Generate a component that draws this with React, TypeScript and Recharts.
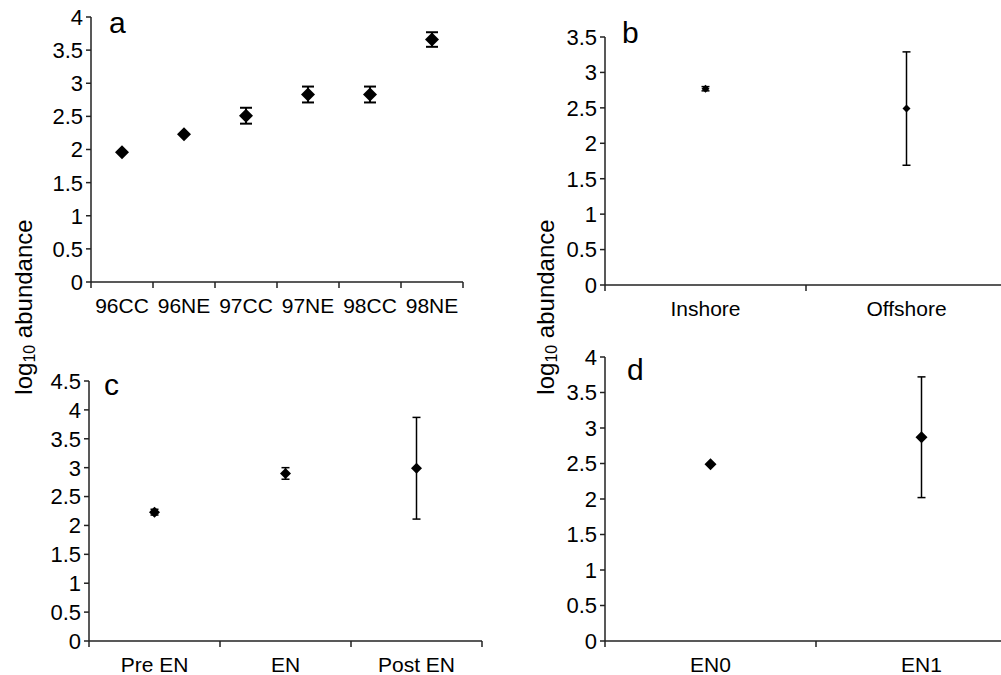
import React from "react";
import {
  ScatterChart,
  Scatter,
  XAxis,
  YAxis,
  ErrorBar,
} from "recharts";

// panel a: survey periods
const periodsA = ["96CC", "96NE", "97CC", "97NE", "98CC", "98NE"];
const meanA = [1.96, 2.23, 2.51, 2.83, 2.83, 3.66];
const errA = [0, 0, 0.12, 0.12, 0.12, 0.11];
const ticksA = [0, 0.5, 1, 1.5, 2, 2.5, 3, 3.5, 4];

// panel b: location
const placesB = ["Inshore", "Offshore"];
const meanB = [2.77, 2.49];
const errB = [0.03, 0.8];
const ticksB = [0, 0.5, 1, 1.5, 2, 2.5, 3, 3.5];

// panel c: El Nino phase
const phasesC = ["Pre EN", "EN", "Post EN"];
const meanC = [2.23, 2.9, 2.99];
const errC = [0.05, 0.1, 0.88];
const ticksC = [0, 0.5, 1, 1.5, 2, 2.5, 3, 3.5, 4, 4.5];

// panel d
const groupsD = ["EN0", "EN1"];
const meanD = [2.49, 2.87];
const errD = [0, 0.85];
const ticksD = [0, 0.5, 1, 1.5, 2, 2.5, 3, 3.5, 4];

const FONT = "'Liberation Sans', Arial, sans-serif";
const AXIS = "#222";

const toRows = (names: string[], means: number[], errs: number[]) =>
  names.map((name, i) => ({ name, mean: means[i], err: errs[i] }));

const Diamond = (props: any) => {
  const { cx, cy, r } = props;
  if (cx == null || cy == null) return null;
  return (
    <polygon
      points={`${cx},${cy - r} ${cx + r},${cy} ${cx},${cy + r} ${cx - r},${cy}`}
      fill="#000"
    />
  );
};

// category label in the middle of the band, tick mark on the band edges
const CatTick = (props: any) => {
  const { x, y, payload, index, band, count } = props;
  const top = y - 16;
  return (
    <g>
      <line x1={x - band / 2} x2={x - band / 2} y1={top} y2={top + 6} stroke={AXIS} strokeWidth={1.5} />
      {index === count - 1 && (
        <line x1={x + band / 2} x2={x + band / 2} y1={top} y2={top + 6} stroke={AXIS} strokeWidth={1.5} />
      )}
      <text x={x} y={y} dy="0.71em" textAnchor="middle" fill="#000" fontSize={21} fontFamily={FONT}>
        {payload.value}
      </text>
    </g>
  );
};

const NumTick = (props: any) => {
  const { x, y, payload } = props;
  return (
    <text x={x} y={y} dy="0.36em" textAnchor="end" fill="#000" fontSize={22} fontFamily={FONT}>
      {payload.value}
    </text>
  );
};

interface PanelProps {
  left: number;
  top: number;
  width: number;
  height: number;
  margin: { top: number; right: number; bottom: number; left: number };
  data: any[];
  ticks: number[];
  r: number;
  cap: number;
  capStroke: number;
}

function Panel({ left, top, width, height, margin, data, ticks, r, cap, capStroke }: PanelProps) {
  const plotW = width - margin.left - margin.right - 60;
  const band = plotW / data.length;
  return (
    <div style={{ position: "absolute", left, top }}>
      <ScatterChart width={width} height={height} margin={margin}>
        <XAxis
          type="category"
          dataKey="name"
          allowDuplicatedCategory={false}
          height={30}
          tickLine={false}
          tickSize={6}
          tickMargin={10}
          axisLine={{ stroke: AXIS, strokeWidth: 1.5 }}
          interval={0}
          tick={<CatTick band={band} count={data.length} />}
        />
        <YAxis
          type="number"
          dataKey="mean"
          width={60}
          domain={[ticks[0], ticks[ticks.length - 1]]}
          ticks={ticks}
          interval={0}
          tickSize={5}
          tickMargin={3}
          axisLine={{ stroke: AXIS, strokeWidth: 1.5 }}
          tickLine={{ stroke: AXIS, strokeWidth: 1.5 }}
          tick={<NumTick />}
        />
        <Scatter
          data={data}
          isAnimationActive={false}
          shape={(p: any) => <Diamond {...p} r={r} />}
        >
          <ErrorBar
            dataKey="err"
            direction="y"
            width={cap}
            stroke="#000"
            strokeWidth={capStroke}
            isAnimationActive={false}
          />
        </Scatter>
      </ScatterChart>
    </div>
  );
}

export default function App() {
  return (
    <div
      style={{
        position: "absolute",
        left: 0,
        top: 0,
        width: 1001,
        height: 675,
        overflow: "hidden",
        background: "#fff",
        fontFamily: FONT,
      }}
    >
      <Panel
        left={0}
        top={0}
        width={500}
        height={320}
        margin={{ top: 17, right: 37, bottom: 8, left: 31 }}
        data={toRows(periodsA, meanA, errA)}
        ticks={ticksA}
        r={7}
        cap={6}
        capStroke={2}
      />
      <Panel
        left={500}
        top={0}
        width={520}
        height={320}
        margin={{ top: 37, right: 13, bottom: 5, left: 45 }}
        data={toRows(placesB, meanB, errB)}
        ticks={ticksB}
        r={4}
        cap={4}
        capStroke={1.5}
      />
      <Panel
        left={0}
        top={330}
        width={500}
        height={345}
        margin={{ top: 51, right: 18, bottom: 4, left: 29 }}
        data={toRows(phasesC, meanC, errC)}
        ticks={ticksC}
        r={5.5}
        cap={4}
        capStroke={1.5}
      />
      <Panel
        left={500}
        top={330}
        width={540}
        height={345}
        margin={{ top: 27, right: 13, bottom: 4, left: 45 }}
        data={toRows(groupsD, meanD, errD)}
        ticks={ticksD}
        r={6}
        cap={4}
        capStroke={1.5}
      />
      <svg
        width={1001}
        height={675}
        style={{ position: "absolute", left: 0, top: 0, pointerEvents: "none" }}
      >
        <g fontFamily={FONT} fill="#000">
          <text fontSize={30} x={109} y={33}>a</text>
          <text fontSize={30} x={622} y={43}>b</text>
          <text fontSize={30} x={104} y={395}>c</text>
          <text fontSize={30} x={627} y={380}>d</text>
          {[23, 545].map((cx) => (
            <text
              key={cx}
              x={cx}
              y={307}
              fontSize={24}
              textAnchor="middle"
              dominantBaseline="central"
              transform={`rotate(-90 ${cx} 307)`}
            >
              log
              <tspan fontSize={16} dy={6}>10</tspan>
              <tspan dy={-6}> abundance</tspan>
            </text>
          ))}
        </g>
      </svg>
    </div>
  );
}
